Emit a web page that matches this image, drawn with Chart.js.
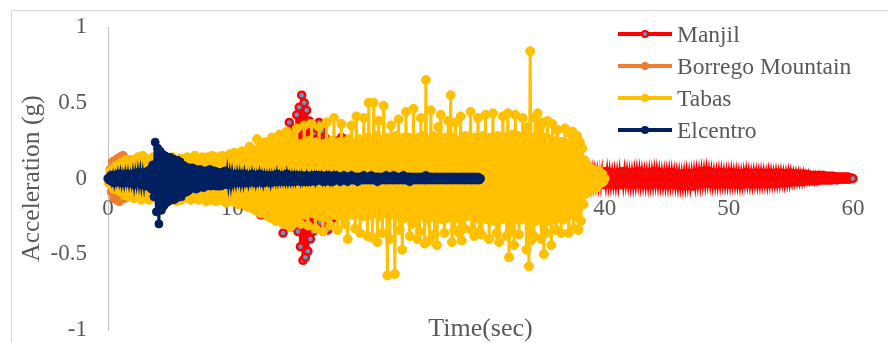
<!DOCTYPE html>
<html>
<head>
<meta charset="utf-8">
<script src="https://cdn.jsdelivr.net/npm/chart.js@4"></script>
<style>
  html, body { margin: 0; padding: 0; background: #fff; }
  #wrap { position: relative; width: 888px; height: 343px; overflow: hidden; background: #fff; }
  #frame { position: absolute; left: 11px; top: 10px; width: 900px; height: 360px; border: 1px solid #d9d9d9; box-sizing: border-box; }
  #chart { position: absolute; left: 0; top: 0; }
  .serif { font-family: 'Liberation Serif', 'Times New Roman', serif; color: #595959; }
  #xtitle { position: absolute; left: 108px; width: 745px; top: 315px; text-align: center; font-size: 26px; line-height: 26px; }
  #legend { position: absolute; left: 618px; top: 18px; }
  .row { display: flex; align-items: center; height: 32px; font-size: 23.5px; line-height: 32px; white-space: nowrap; }
  .swatch { position: relative; width: 54px; height: 4px; margin-right: 5px; }
  .dot { position: absolute; left: 23px; top: -2px; width: 8px; height: 8px; border-radius: 50%; box-sizing: border-box; }
</style>
</head>
<body>
<div id="wrap">
  <div id="frame"></div>
  <canvas id="chart" width="888" height="343"></canvas>
  <div id="xtitle" class="serif">Time(sec)</div>
  <div id="legend" class="serif"></div>
</div>
<script>
// Ground-motion records (acceleration in g), one row per second of record
const seriesNames = ['Manjil', 'Borrego Mountain', 'Tabas', 'Elcentro'];

const manjilStep = 0.1;
const manjil = [
  0.00, -0.01, 0.01, -0.02, 0.02, -0.01, 0.02, -0.02, 0.03, -0.02,
  0.03, -0.02, 0.03, -0.03, 0.02, -0.03, 0.04, -0.03, 0.03, -0.04,
  0.04, -0.03, 0.05, -0.04, 0.03, -0.05, 0.04, -0.04, 0.05, -0.03,
  0.05, -0.04, 0.06, -0.05, 0.04, -0.06, 0.05, -0.05, 0.06, -0.04,
  0.06, -0.05, 0.07, -0.06, 0.05, -0.07, 0.06, -0.05, 0.07, -0.06,
  0.07, -0.06, 0.08, -0.07, 0.06, -0.08, 0.07, -0.06, 0.08, -0.07,
  0.08, -0.07, 0.09, -0.08, 0.07, -0.09, 0.08, -0.07, 0.09, -0.08,
  0.09, -0.08, 0.10, -0.09, 0.08, -0.10, 0.09, -0.08, 0.10, -0.09,
  0.10, -0.09, 0.11, -0.10, 0.09, -0.11, 0.10, -0.09, 0.11, -0.10,
  0.11, -0.10, 0.12, -0.11, 0.10, -0.12, 0.11, -0.10, 0.12, -0.11,
  0.12, -0.11, 0.13, -0.12, 0.11, -0.13, 0.14, -0.12, 0.13, -0.14,
  0.15, -0.13, 0.16, -0.14, 0.15, -0.17, 0.16, -0.15, 0.18, -0.16,
  0.17, -0.20, 0.18, -0.24, 0.19, -0.21, 0.22, -0.18, 0.21, -0.23,
  0.20, -0.25, 0.23, -0.22, 0.26, -0.24, 0.21, -0.26, 0.25, -0.23,
  0.24, -0.36, 0.27, -0.29, 0.30, -0.27, 0.37, -0.30, 0.28, -0.32,
  0.33, -0.30, 0.42, -0.35, 0.47, -0.45, 0.55, -0.54, 0.50, -0.52,
  0.45, -0.48, 0.38, -0.40, 0.32, -0.35, 0.30, -0.28, 0.33, -0.30,
  0.37, -0.29, 0.31, -0.34, 0.27, -0.33, 0.26, -0.34, 0.24, -0.28,
  0.22, -0.26, 0.25, -0.23, 0.21, -0.24, 0.23, -0.22, 0.27, -0.21,
  0.26, -0.20, 0.22, -0.19, 0.21, -0.22, 0.20, -0.18, 0.21, -0.19,
  0.19, -0.20, 0.18, -0.19, 0.20, -0.18, 0.19, -0.17, 0.18, -0.19,
  0.18, -0.17, 0.19, -0.18, 0.17, -0.19, 0.18, -0.16, 0.17, -0.18,
  0.17, -0.18, 0.16, -0.17, 0.18, -0.16, 0.17, -0.15, 0.16, -0.17,
  0.16, -0.15, 0.17, -0.16, 0.15, -0.17, 0.16, -0.14, 0.15, -0.16,
  0.15, -0.16, 0.14, -0.15, 0.16, -0.14, 0.15, -0.13, 0.14, -0.15,
  0.14, -0.13, 0.15, -0.14, 0.13, -0.15, 0.14, -0.12, 0.13, -0.14,
  0.13, -0.14, 0.12, -0.13, 0.14, -0.12, 0.13, -0.11, 0.12, -0.13,
  0.12, -0.11, 0.13, -0.12, 0.11, -0.13, 0.12, -0.10, 0.11, -0.12,
  0.11, -0.12, 0.10, -0.11, 0.12, -0.10, 0.11, -0.09, 0.10, -0.11,
  0.10, -0.09, 0.11, -0.10, 0.09, -0.11, 0.10, -0.08, 0.09, -0.10,
  0.09, -0.10, 0.08, -0.09, 0.10, -0.08, 0.09, -0.07, 0.08, -0.09,
  0.08, -0.07, 0.09, -0.08, 0.07, -0.09, 0.08, -0.07, 0.08, -0.08,
  0.07, -0.08, 0.07, -0.07, 0.08, -0.06, 0.07, -0.07, 0.06, -0.07,
  0.07, -0.06, 0.08, -0.07, 0.06, -0.07, 0.07, -0.06, 0.07, -0.06,
  0.06, -0.07, 0.06, -0.06, 0.07, -0.05, 0.06, -0.06, 0.05, -0.06,
  0.06, -0.05, 0.07, -0.06, 0.05, -0.06, 0.06, -0.05, 0.06, -0.05,
  0.05, -0.06, 0.05, -0.05, 0.06, -0.05, 0.05, -0.06, 0.05, -0.05,
  0.06, -0.05, 0.05, -0.06, 0.05, -0.04, 0.06, -0.05, 0.05, -0.06,
  0.04, -0.04, 0.045, -0.04, 0.045, -0.045, 0.04, -0.045, 0.04, -0.04,
  0.04, -0.035, 0.04, -0.035, 0.035, -0.04, 0.035, -0.04, 0.04, -0.04,
  0.045, -0.035, 0.045, -0.035, 0.04, -0.035, 0.035, -0.035, 0.035, -0.04,
  0.035, -0.04, 0.04, -0.04, 0.045, -0.035, 0.045, -0.03, 0.04, -0.035,
  0.035, -0.04, 0.035, -0.04, 0.04, -0.035, 0.045, -0.03, 0.045, -0.035,
  0.04, -0.035, 0.035, -0.04, 0.035, -0.04, 0.04, -0.035, 0.04, -0.035,
  0.045, -0.03, 0.045, -0.035, 0.04, -0.035, 0.035, -0.04, 0.035, -0.04,
  0.035, -0.04, 0.04, -0.035, 0.04, -0.035, 0.035, -0.04, 0.03, -0.045,
  0.03, -0.045, 0.025, -0.05, 0.03, -0.045, 0.035, -0.04, 0.03, -0.045,
  0.03, -0.05, 0.035, -0.04, 0.04, -0.035, 0.04, -0.035, 0.045, -0.03,
  0.045, -0.03, 0.05, -0.025, 0.045, -0.03, 0.04, -0.035, 0.035, -0.035,
  0.035, -0.035, 0.04, -0.035, 0.04, -0.03, 0.035, -0.035, 0.035, -0.035,
  0.035, -0.035, 0.04, -0.03, 0.035, -0.035, 0.035, -0.035, 0.03, -0.04,
  0.03, -0.035, 0.035, -0.03, 0.04, -0.03, 0.035, -0.035, 0.03, -0.035,
  0.035, -0.03, 0.035, -0.035, 0.03, -0.035, 0.035, -0.03, 0.035, -0.03,
  0.03, -0.035, 0.035, -0.03, 0.035, -0.03, 0.03, -0.03, 0.035, -0.03,
  0.03, -0.03, 0.035, -0.025, 0.03, -0.03, 0.03, -0.025, 0.035, -0.025,
  0.035, -0.02, 0.03, -0.02, 0.03, -0.02, 0.03, -0.02, 0.025, -0.02,
  0.03, -0.015, 0.025, -0.015, 0.025, -0.015, 0.02, -0.015, 0.02, -0.015,
  0.02, -0.015, 0.02, -0.01, 0.02, -0.01, 0.02, -0.01, 0.015, -0.01,
  0.015, -0.01, 0.015, -0.01, 0.015, -0.005, 0.01, -0.01, 0.01, -0.005,
  0.01, -0.005, 0.01, -0.005, 0.01, -0.005, 0.01, -0.005, 0.005, 0.00,
  0.00
];

const borregoStep = 0.1;
const borregoMountain = [
  0.00, -0.03, 0.06, -0.09, 0.11, -0.13, 0.12, -0.14, 0.13, -0.15,
  0.14, -0.12, 0.15, -0.13, 0.11, -0.12, 0.10, -0.11, 0.12, -0.10,
  0.09, -0.10, 0.08, -0.09, 0.10, -0.08, 0.09, -0.07, 0.08, -0.09,
  0.08, -0.07, 0.09, -0.08, 0.10, -0.07, 0.08, -0.09, 0.07, -0.08,
  0.07, -0.08, 0.06, -0.07, 0.08, -0.06, 0.07, -0.06, 0.07, -0.06,
  0.06, -0.07, 0.05, -0.06, 0.07, -0.05, 0.06, -0.05, 0.06, -0.05,
  0.05, -0.06, 0.05, -0.05, 0.06, -0.04, 0.05, -0.05, 0.04, -0.05,
  0.05, -0.04, 0.04, -0.05, 0.04, -0.04, 0.05, -0.04, 0.04, -0.04,
  0.04, -0.04, 0.03, -0.04, 0.04, -0.03, 0.04, -0.03, 0.03, -0.04,
  0.03, -0.03, 0.04, -0.03, 0.03, -0.03, 0.02, -0.03, 0.02, -0.02,
  0.00
];

const tabasStep = 0.1;
const tabas = [
  0.00, -0.03, 0.05, -0.04, 0.06, -0.07, 0.08, -0.06, 0.09, -0.08,
  0.10, -0.09, 0.08, -0.11, 0.12, -0.10, 0.09, -0.12, 0.11, -0.10,
  0.12, -0.13, 0.10, -0.12, 0.14, -0.11, 0.13, -0.14, 0.15, -0.12,
  0.13, -0.11, 0.12, -0.14, 0.11, -0.13, 0.14, -0.12, 0.10, -0.13,
  0.12, -0.14, 0.13, -0.11, 0.12, -0.13, 0.10, -0.12, 0.13, -0.11,
  0.11, -0.12, 0.14, -0.13, 0.12, -0.15, 0.11, -0.12, 0.13, -0.14,
  0.12, -0.11, 0.13, -0.12, 0.14, -0.13, 0.11, -0.14, 0.12, -0.13,
  0.15, -0.12, 0.13, -0.14, 0.12, -0.13, 0.14, -0.11, 0.13, -0.15,
  0.14, -0.13, 0.12, -0.14, 0.15, -0.12, 0.13, -0.15, 0.14, -0.13,
  0.13, -0.14, 0.15, -0.12, 0.14, -0.16, 0.13, -0.14, 0.16, -0.15,
  0.15, -0.14, 0.17, -0.16, 0.14, -0.17, 0.16, -0.15, 0.18, -0.16,
  0.17, -0.18, 0.16, -0.19, 0.21, -0.17, 0.19, -0.20, 0.18, -0.21,
  0.26, -0.22, 0.20, -0.23, 0.22, -0.21, 0.24, -0.20, 0.23, -0.25,
  0.22, -0.26, 0.27, -0.24, 0.25, -0.28, 0.23, -0.26, 0.29, -0.25,
  0.27, -0.30, 0.26, -0.28, 0.31, -0.27, 0.29, -0.32, 0.28, -0.30,
  0.24, -0.22, 0.33, -0.25, 0.21, -0.30, 0.23, -0.20, 0.35, -0.24,
  0.22, -0.31, 0.25, -0.21, 0.36, -0.23, 0.20, -0.33, 0.24, -0.22,
  0.34, -0.25, 0.21, -0.35, 0.23, -0.22, 0.37, -0.26, 0.22, -0.31,
  0.25, -0.21, 0.40, -0.24, 0.22, -0.34, 0.24, -0.22, 0.36, -0.25,
  0.23, -0.30, 0.21, -0.40, 0.26, -0.22, 0.35, -0.24, 0.22, -0.33,
  0.41, -0.23, 0.26, -0.36, 0.22, -0.25, 0.40, -0.21, 0.27, -0.38,
  0.50, -0.24, 0.26, -0.39, 0.50, -0.23, 0.28, -0.42, 0.38, -0.25,
  0.24, -0.36, 0.48, -0.23, 0.27, -0.64, 0.25, -0.40, 0.35, -0.24,
  0.26, -0.63, 0.28, -0.25, 0.39, -0.34, 0.24, -0.47, 0.27, -0.26,
  0.44, -0.24, 0.27, -0.38, 0.25, -0.30, 0.46, -0.25, 0.26, -0.40,
  0.27, -0.35, 0.40, -0.24, 0.28, -0.43, 0.65, -0.27, 0.25, -0.41,
  0.45, -0.25, 0.28, -0.37, 0.26, -0.44, 0.34, -0.24, 0.42, -0.27,
  0.25, -0.36, 0.27, -0.26, 0.38, -0.25, 0.55, -0.42, 0.27, -0.34,
  0.37, -0.26, 0.25, -0.36, 0.41, -0.41, 0.26, -0.33, 0.28, -0.25,
  0.27, -0.24, 0.44, -0.34, 0.25, -0.38, 0.27, -0.26, 0.40, -0.35,
  0.26, -0.37, 0.28, -0.25, 0.42, -0.27, 0.25, -0.40, 0.27, -0.24,
  0.43, -0.28, 0.26, -0.36, 0.28, -0.42, 0.25, -0.27, 0.41, -0.26,
  0.27, -0.38, 0.43, -0.52, 0.26, -0.35, 0.29, -0.44, 0.42, -0.27,
  0.28, -0.37, 0.26, -0.27, 0.40, -0.26, 0.28, -0.47, 0.34, -0.58,
  0.84, -0.41, 0.27, -0.38, 0.40, -0.28, 0.43, -0.26, 0.34, -0.40,
  0.37, -0.50, 0.27, -0.36, 0.38, -0.28, 0.26, -0.44, 0.36, -0.27,
  0.25, -0.34, 0.32, -0.26, 0.24, -0.36, 0.24, -0.27, 0.33, -0.25,
  0.23, -0.36, 0.30, -0.24, 0.31, -0.33, 0.22, -0.25, 0.28, -0.34,
  0.24, -0.28, 0.20, -0.17, 0.12, -0.10, 0.09, -0.08, 0.07, -0.08,
  0.06, -0.07, 0.05, -0.06, 0.05, -0.04, 0.04, -0.03, 0.03, -0.02,
  0.00
];

const elcentroStep = 0.1;
const elcentro = [
  0.00, -0.01, 0.02, -0.02, 0.02, -0.03, 0.02, -0.02, 0.03, -0.02,
  0.03, -0.03, 0.02, -0.03, 0.03, -0.02, 0.03, -0.03, 0.02, -0.03,
  0.03, -0.04, 0.03, -0.03, 0.04, -0.03, 0.04, -0.04, 0.03, -0.04,
  0.04, -0.05, 0.05, -0.04, 0.06, -0.07, 0.09, -0.12, 0.24, -0.22,
  0.20, -0.30, 0.18, -0.21, 0.16, -0.18, 0.15, -0.16, 0.14, -0.15,
  0.14, -0.13, 0.13, -0.14, 0.12, -0.13, 0.12, -0.10, 0.11, -0.12,
  0.09, -0.08, 0.08, -0.09, 0.07, -0.08, 0.07, -0.06, 0.07, -0.06,
  0.06, -0.07, 0.05, -0.06, 0.06, -0.05, 0.05, -0.06, 0.05, -0.05,
  0.05, -0.04, 0.06, -0.05, 0.05, -0.04, 0.05, -0.05, 0.04, -0.05,
  0.04, -0.05, 0.04, -0.04, 0.05, -0.04, 0.04, -0.04, 0.03, -0.04,
  0.03, -0.03, 0.02, -0.03, 0.03, -0.02, 0.03, -0.03, 0.02, -0.03,
  0.03, -0.02, 0.02, -0.03, 0.02, -0.02, 0.03, -0.02, 0.02, -0.03,
  0.02, -0.02, 0.03, -0.02, 0.02, -0.03, 0.02, -0.02, 0.02, -0.02,
  0.02, -0.03, 0.02, -0.02, 0.02, -0.02, 0.03, -0.02, 0.02, -0.02,
  0.02, -0.02, 0.02, -0.02, 0.03, -0.02, 0.02, -0.02, 0.02, -0.02,
  0.02, -0.02, 0.02, -0.01, 0.02, -0.02, 0.02, -0.02, 0.01, -0.02,
  0.02, -0.02, 0.01, -0.02, 0.02, -0.01, 0.02, -0.02, 0.02, -0.01,
  0.02, -0.01, 0.02, -0.02, 0.01, -0.02, 0.02, -0.01, 0.02, -0.02,
  0.01, -0.02, 0.02, -0.01, 0.02, -0.01, 0.01, -0.02, 0.01, -0.01,
  0.02, -0.01, 0.01, -0.02, 0.01, -0.01, 0.02, -0.01, 0.01, -0.01,
  0.01, -0.02, 0.01, -0.01, 0.01, -0.01, 0.02, -0.01, 0.01, -0.01,
  0.01, -0.01, 0.02, -0.01, 0.01, -0.01, 0.01, -0.02, 0.01, -0.01,
  0.01, -0.01, 0.01, -0.01, 0.02, -0.01, 0.01, -0.01, 0.01, -0.01,
  0.02, -0.01, 0.01, -0.01, 0.01, -0.01, 0.01, -0.01, 0.02, -0.01,
  0.01, -0.01, 0.01, -0.02, 0.01, -0.01, 0.01, -0.01, 0.01, -0.01,
  0.01, -0.01, 0.01, -0.01, 0.01, -0.01, 0.02, -0.01, 0.01, -0.01,
  0.01, -0.01, 0.01, -0.01, 0.01, -0.01, 0.01, -0.01, 0.01, -0.01,
  0.01, -0.01, 0.01, -0.01, 0.01, -0.01, 0.01, -0.01, 0.01, -0.01,
  0.01, -0.01, 0.01, -0.01, 0.01, -0.01, 0.01, -0.01, 0.01, -0.01,
  0.01, -0.01, 0.01, -0.01, 0.01, -0.01, 0.01, -0.01, 0.01, -0.01,
  0.00
];

const xTicks = [0, 10, 20, 30, 40, 50, 60];
const yTicks = [-1, -0.5, 0, 0.5, 1];

const serif = "'Liberation Serif', 'Times New Roman', serif";
const textGray = '#595959';

// Each record is sampled at a constant step starting at t = 0
function toPoints(values, step) {
  return values.map((v, i) => ({ x: i * step, y: v }));
}

const styles = [
  { line: '#FF0000', fill: '#5B9BD5', radius: 3.5, border: 2.5, order: 4 },
  { line: '#ED7D31', fill: '#ED7D31', radius: 4.5, border: 1, order: 3 },
  { line: '#FFC000', fill: '#FFC000', radius: 4.5, border: 1, order: 2 },
  { line: '#002060', fill: '#002060', radius: 4, border: 1, order: 1 }
];
const records = [
  toPoints(manjil, manjilStep),
  toPoints(borregoMountain, borregoStep),
  toPoints(tabas, tabasStep),
  toPoints(elcentro, elcentroStep)
];

const datasets = records.map((pts, k) => ({
  label: seriesNames[k],
  data: pts,
  showLine: true,
  borderColor: styles[k].line,
  borderWidth: 3,
  pointRadius: styles[k].radius,
  pointBorderWidth: styles[k].border,
  pointBorderColor: styles[k].line,
  pointBackgroundColor: styles[k].fill,
  order: styles[k].order,
  clip: false
}));

// Plot area spans x 108..853 and y 27..330 on the 888x343 canvas
function noEdgePadding(s) {
  s.paddingTop = 0;
  s.paddingBottom = 0;
  s.paddingLeft = 0;
  s.paddingRight = 0;
}

new Chart(document.getElementById('chart'), {
  type: 'scatter',
  data: { datasets },
  options: {
    responsive: false,
    animation: false,
    devicePixelRatio: 1,
    layout: { padding: { top: 27, right: 35, bottom: 13, left: 0 } },
    plugins: { legend: { display: false }, tooltip: { enabled: false } },
    scales: {
      x: {
        type: 'linear',
        position: { y: 0 },
        min: xTicks[0],
        max: xTicks[xTicks.length - 1],
        afterBuildTicks: (s) => { s.ticks = xTicks.map(v => ({ value: v })); },
        afterFit: (s) => { s.height = 0; noEdgePadding(s); },
        ticks: { padding: 17, color: textGray, font: { family: serif, size: 23 }, maxRotation: 0 },
        grid: { display: false, drawTicks: false },
        border: { color: '#bfbfbf', width: 1 }
      },
      y: {
        min: yTicks[0],
        max: yTicks[yTicks.length - 1],
        afterBuildTicks: (s) => { s.ticks = yTicks.map(v => ({ value: v })); },
        ticks: { padding: 21, color: textGray, font: { family: serif, size: 23 }, callback: (v) => String(v) },
        grid: { display: false, drawTicks: false },
        border: { color: '#bfbfbf', width: 1 },
        title: { display: true, text: 'Acceleration (g)', color: textGray, font: { family: serif, size: 25.5 }, padding: { top: 17, bottom: 0 } },
        afterFit: (s) => { s.width = 108; noEdgePadding(s); }
      }
    }
  }
});

// Legend: line sample with marker, then the series name
const legend = document.getElementById('legend');
seriesNames.forEach((name, k) => {
  const row = document.createElement('div');
  row.className = 'row';
  const sw = document.createElement('div');
  sw.className = 'swatch';
  sw.style.background = styles[k].line;
  const dot = document.createElement('div');
  dot.className = 'dot';
  dot.style.background = styles[k].fill;
  dot.style.border = (k === 0 ? 2 : 0) + 'px solid ' + styles[k].line;
  sw.appendChild(dot);
  const label = document.createElement('span');
  label.textContent = name;
  row.appendChild(sw);
  row.appendChild(label);
  legend.appendChild(row);
});
</script>
</body>
</html>
